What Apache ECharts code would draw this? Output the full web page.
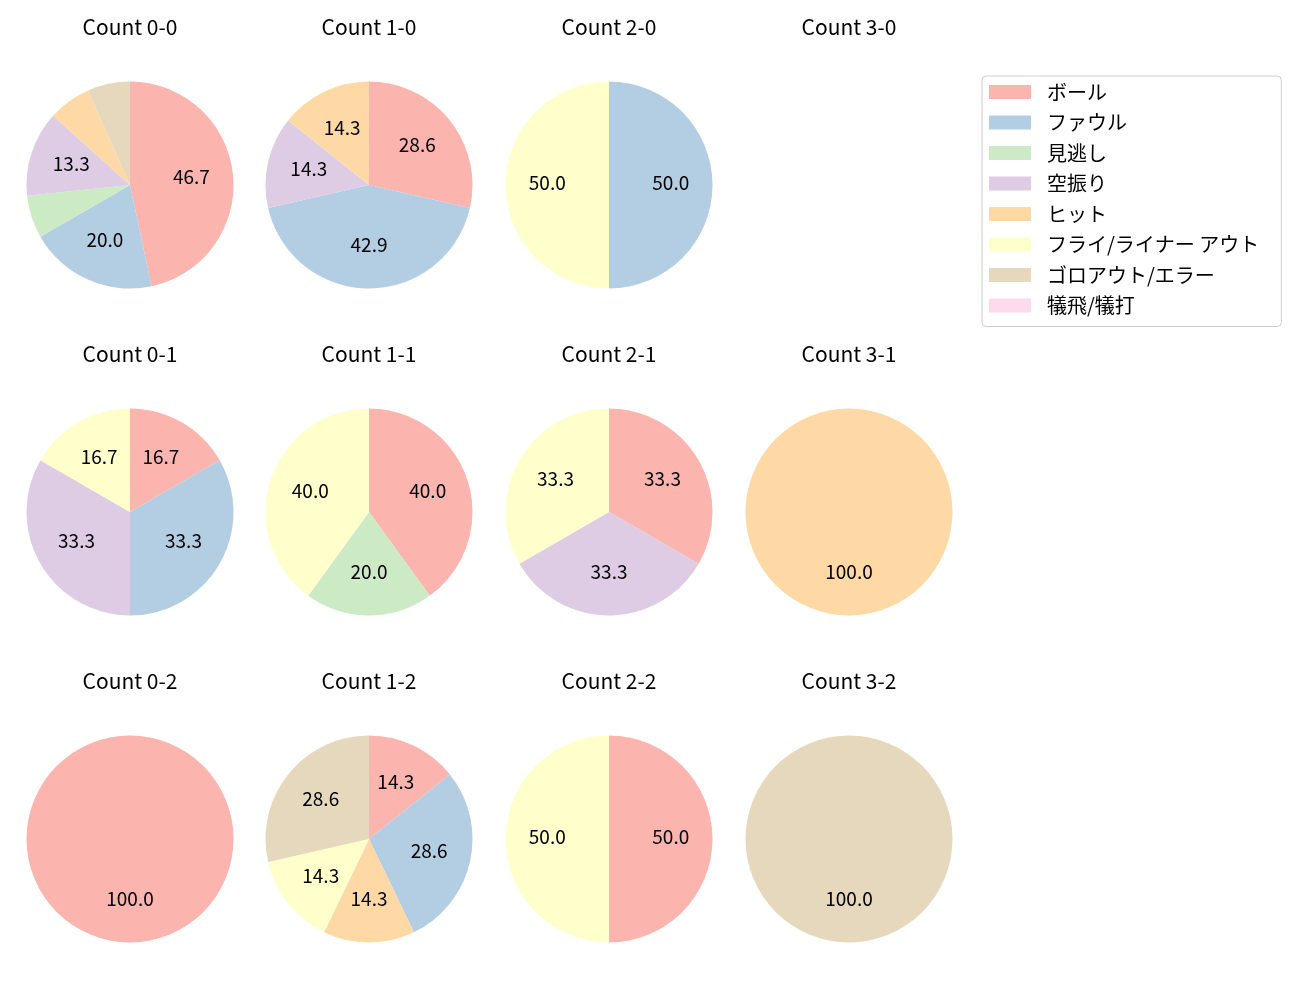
<!DOCTYPE html>
<html>
<head>
	<meta charset="utf-8">
	<title>Count pies</title>
	<script src="https://cdn.jsdelivr.net/npm/echarts@6/dist/echarts.min.js"></script>
</head>
<body style="margin:0">
	<div id="main" style="width: 1300px;height: 1000px;"></div>
	<script>
		// 結果の分類
		var categories = ['ボール', 'ファウル', '見逃し', '空振り', 'ヒット', 'フライ/ライナー アウト', 'ゴロアウト/エラー', '犠飛/犠打'];
		var colors = ['#fbb4ae', '#b3cde3', '#ccebc5', '#decbe4', '#fed9a6', '#ffffcc', '#e5d8bd', '#fddaec'];

		// 各カウントの件数 (categories の順)
		var count00 = [7, 3, 1, 2, 1, 0, 1, 0];
		var count10 = [2, 3, 0, 1, 1, 0, 0, 0];
		var count20 = [0, 1, 0, 0, 0, 1, 0, 0];
		var count30 = [0, 0, 0, 0, 0, 0, 0, 0];
		var count01 = [1, 2, 0, 2, 0, 1, 0, 0];
		var count11 = [2, 0, 1, 0, 0, 2, 0, 0];
		var count21 = [1, 0, 0, 1, 0, 1, 0, 0];
		var count31 = [0, 0, 0, 0, 1, 0, 0, 0];
		var count02 = [1, 0, 0, 0, 0, 0, 0, 0];
		var count12 = [1, 2, 0, 0, 1, 1, 2, 0];
		var count22 = [1, 0, 0, 0, 0, 1, 0, 0];
		var count32 = [0, 0, 0, 0, 0, 0, 1, 0];

		var panes = [
			['Count 0-0', count00], ['Count 1-0', count10], ['Count 2-0', count20], ['Count 3-0', count30],
			['Count 0-1', count01], ['Count 1-1', count11], ['Count 2-1', count21], ['Count 3-1', count31],
			['Count 0-2', count02], ['Count 1-2', count12], ['Count 2-2', count22], ['Count 3-2', count32]
		];

		var colX = [130, 369, 609, 849];
		var rowY = [185, 512, 839];
		var R = 103.5;
		var font = '"Noto Sans CJK JP", "Noto Sans", sans-serif';

		var titles = [];
		var series = [];
		panes.forEach(function (p, i) {
			var cx = colX[i % 4], cy = rowY[Math.floor(i / 4)];
			titles.push({
				text: p[0], left: cx, top: cy - 168, textAlign: 'center', padding: 0,
				textStyle: { fontFamily: font, fontSize: 21, fontWeight: 'normal', color: '#000' }
			});
			var total = p[1].reduce(function (a, b) { return a + b; }, 0);
			var data = categories.map(function (c, k) {
				return { name: c, value: p[1][k], itemStyle: { color: colors[k] } };
			});
			if (total === 0) {
				// 空のカウント: 凡例用のダミーのみ
				series.push({ type: 'pie', center: [cx, cy], radius: 0, data: data, silent: true, label: { show: false }, labelLine: { show: false } });
				return;
			}
			series.push({
				type: 'pie', center: [cx, cy], radius: R, startAngle: 90, clockwise: true,
				silent: true, animation: false, data: data,
				label: { show: false }, labelLine: { show: false }
			});
			// ラベル用の透明なリング (半径0.6付近に置く)
			series.push({
				type: 'pie', center: [cx, cy], radius: [14, R], startAngle: 90, clockwise: true,
				silent: true, animation: false, legendHoverLink: false,
				data: data.map(function (d) { return { name: d.name + '_lbl', value: d.value }; }),
				itemStyle: { color: 'rgba(0,0,0,0)' },
				label: {
					show: true, position: 'inside', fontFamily: font, fontSize: 19, color: '#000',
					offset: [0, -2],
					formatter: function (prm) {
						var pct = prm.value / total * 100;
						return pct >= 10 ? pct.toFixed(1) : '';
					}
				},
				labelLine: { show: false }
			});
		});

		var myCharts = echarts.init(document.getElementById('main'));
		var option = {
			animation: false,
			title: titles,
			legend: {
				data: categories,
				orient: 'vertical',
				left: 982, top: 76,
				itemWidth: 42, itemHeight: 14, itemGap: 10.5,
				icon: 'rect',
				padding: [6, 22, 11, 7],
				borderColor: '#cccccc', borderWidth: 1, borderRadius: 4,
				selectedMode: false,
				textStyle: { fontFamily: font, fontSize: 20, color: '#000', padding: [0, 0, 0, 11], lineHeight: 20 }
			},
			series: series
		};
		myCharts.setOption(option);
	</script>
</body>
</html>
